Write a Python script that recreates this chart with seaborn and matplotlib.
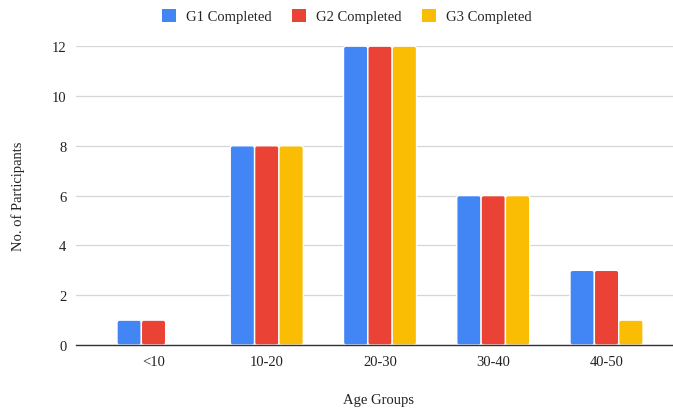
import matplotlib
matplotlib.use("Agg")
import matplotlib.pyplot as plt
import seaborn as sns
import pandas as pd
from matplotlib.patches import FancyBboxPatch, Patch

categories = ["<10", "10-20", "20-30", "30-40", "40-50"]
g1 = [1, 8, 12, 6, 3]
g2 = [1, 8, 12, 6, 3]
g3 = [0, 8, 12, 6, 1]
series_names = ["G1 Completed", "G2 Completed", "G3 Completed"]
colors = ["#4285F4", "#EA4335", "#FBBC04"]

rows = []
for name, vals in zip(series_names, [g1, g2, g3]):
    for c, v in zip(categories, vals):
        rows.append({"Age Groups": c, "Series": name, "Value": v})
df = pd.DataFrame(rows)

sns.set_style("white")
plt.rcParams["font.family"] = ["Liberation Serif", "DejaVu Serif"]

fig = plt.figure(figsize=(6.73, 4.10), dpi=100)
ax = fig.add_axes([0.113, 0.156, 0.887, 0.729])
sns.barplot(data=df, x="Age Groups", y="Value", hue="Series", palette=colors,
            width=0.645, ax=ax, saturation=1, edgecolor="white", linewidth=1.0,
            legend=False)

xlim = (-0.684, 4.587)
ylim = (0, 12)
ax.set_xlim(*xlim)
ax.set_ylim(*ylim)

# rounded tops (replace rectangles with rounded boxes)
px_per_x = (0.887 * 673) / (xlim[1] - xlim[0])
px_per_y = (0.729 * 410) / (ylim[1] - ylim[0])
r = 2.5 / px_per_x
aspect = px_per_x / px_per_y
for cont in ax.containers:
    for bar in cont:
        x, y = bar.get_x(), bar.get_y()
        w, h = bar.get_width(), bar.get_height()
        fc = bar.get_facecolor()
        bar.set_visible(False)
        if h <= 0:
            continue
        fb = FancyBboxPatch((x, y), w, h,
                            boxstyle=f"round,pad=0,rounding_size={r}",
                            mutation_aspect=aspect, facecolor=fc,
                            edgecolor="white", linewidth=1.0, zorder=2)
        ax.add_patch(fb)

ax.set_yticks([0, 2, 4, 6, 8, 10, 12])
ax.yaxis.grid(True, color="#d6d6d6", linewidth=0.9)
ax.set_axisbelow(True)
for s in ["top", "right", "left"]:
    ax.spines[s].set_visible(False)
ax.spines["bottom"].set_color("#333333")
ax.spines["bottom"].set_linewidth(1.0)
ax.spines["bottom"].set_zorder(3)
ax.tick_params(axis="both", length=0, labelsize=10.5, colors="#222222", pad=7)
ax.set_xlabel("Age Groups", fontsize=10.5, color="#222222")
ax.set_ylabel("No. of Participants", fontsize=10.5, color="#222222")
ax.xaxis.set_label_coords(0.507, -0.181)
ax.xaxis.label.set_va("center")
ax.yaxis.set_label_coords(-0.097, 0.5)
ax.yaxis.label.set_va("center")

handles = [Patch(facecolor=c, edgecolor="none") for c in colors]
fig.legend(handles, series_names, loc="center", bbox_to_anchor=(0.515, 0.958),
           ncol=3, frameon=False, fontsize=10.5, handlelength=0.95,
           handleheight=0.95, columnspacing=1.4, handletextpad=0.7)

fig.savefig("out.png", dpi=100)
